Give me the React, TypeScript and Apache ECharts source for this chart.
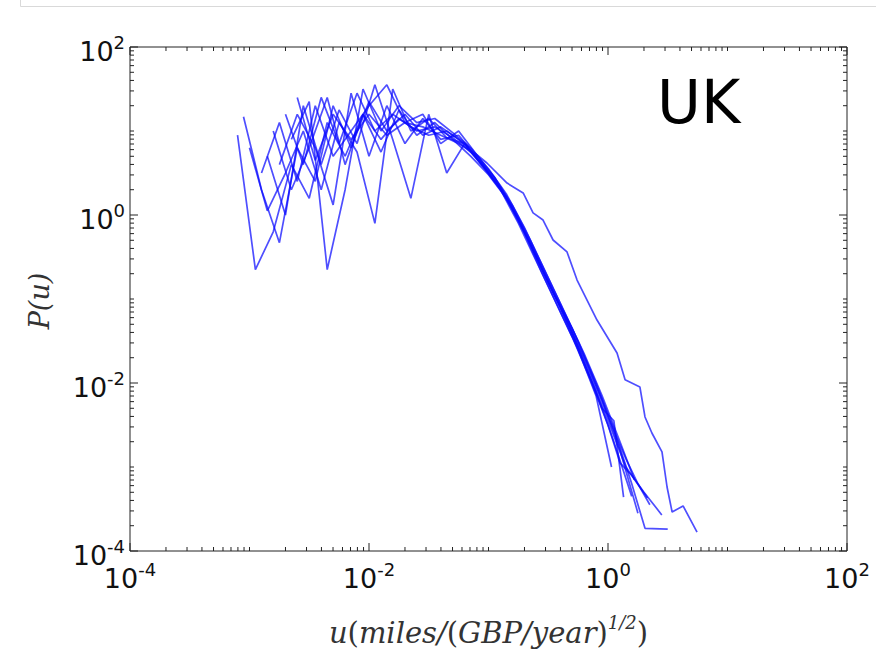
import React, { useEffect, useRef } from "react";
import * as echarts from "echarts";

// ---- data (u, P(u)) for each sample ----
const s1X = [0.000794, 0.00112, 0.00158, 0.00224, 0.00316, 0.00447, 0.00631, 0.00891, 0.0126, 0.0178, 0.0251, 0.0355, 0.0501, 0.0708, 0.1, 0.141, 0.2, 0.282, 0.398, 0.562, 0.794, 1.12, 1.58];
const s1Y = [8.91, 0.224, 0.631, 3.98, 1.58, 12.6, 5.01, 15.8, 7.94, 14.1, 10, 11.2, 8.32, 5.62, 3.16, 1.66, 0.631, 0.224, 0.0794, 0.0251, 0.00794, 0.002, 0.000447];

const s2X = [0.000891, 0.00126, 0.00178, 0.00251, 0.00355, 0.00501, 0.00708, 0.01, 0.0141, 0.02, 0.0282, 0.0398, 0.0562, 0.0794, 0.112, 0.158, 0.224, 0.316, 0.447, 0.631, 0.891, 1.26, 1.78];
const s2Y = [14.8, 2.0, 0.468, 6.31, 2.51, 20.0, 6.31, 22.4, 10, 15.8, 8.91, 11.2, 7.94, 4.79, 2.63, 1.26, 0.479, 0.166, 0.0562, 0.02, 0.00631, 0.00158, 0.000282];

const s3X = [0.00224, 0.00316, 0.00447, 0.00631, 0.00891, 0.0126, 0.0178, 0.0251, 0.0355, 0.0501, 0.0708, 0.1, 0.141, 0.2, 0.282, 0.398, 0.562, 0.794, 1.12, 1.58, 2.04, 3.16];
const s3Y = [7.94, 22.4, 0.224, 2.0, 31.6, 10, 20.0, 12.6, 14.1, 9.55, 6.31, 3.55, 1.78, 0.708, 0.251, 0.0891, 0.0316, 0.01, 0.00282, 0.000631, 0.000186, 0.000182];

const s4X = [0.00178, 0.00251, 0.00355, 0.00501, 0.00708, 0.01, 0.0141, 0.02, 0.0282, 0.0398, 0.0562, 0.0794, 0.112, 0.158, 0.224, 0.316, 0.447, 0.631, 0.891, 1.12, 1.35];
const s4Y = [3.98, 15.8, 6.31, 1.32, 28.2, 5.01, 20.0, 7.08, 14.1, 7.94, 8.91, 5.01, 2.82, 1.2, 0.447, 0.158, 0.0603, 0.0178, 0.00501, 0.00355, 0.000437];

const s5X = [0.001, 0.00141, 0.002, 0.00282, 0.00398, 0.00562, 0.00794, 0.0112, 0.0158, 0.0224, 0.0316, 0.0447, 0.0631, 0.0891, 0.126, 0.178, 0.251, 0.355, 0.501, 0.708, 1, 1.41, 2.0, 2.82];
const s5Y = [6.31, 1.12, 3.16, 10, 2.0, 12.6, 5.62, 0.794, 31.6, 10, 14.1, 8.32, 7.08, 3.8, 2.0, 0.891, 0.316, 0.112, 0.0398, 0.0126, 0.00355, 0.001, 0.000501, 0.000269];

const s6X = [0.00141, 0.002, 0.00282, 0.00398, 0.00562, 0.00794, 0.0112, 0.0158, 0.0224, 0.0316, 0.0447, 0.0631, 0.0891, 0.126, 0.178, 0.251, 0.355, 0.501, 0.708, 1, 1.26, 1.58, 2.14];
const s6Y = [5.01, 1, 20.0, 3.98, 17.8, 7.08, 35.5, 7.94, 1.58, 15.8, 3.16, 7.08, 3.98, 2.0, 0.794, 0.282, 0.1, 0.0355, 0.0112, 0.00316, 0.00112, 0.000794, 0.000427];

const s7X = [0.00126, 0.00178, 0.00251, 0.00355, 0.00501, 0.00708, 0.01, 0.0141, 0.02, 0.0282, 0.0398, 0.0562, 0.0794, 0.112, 0.158, 0.224, 0.316, 0.447, 0.631, 0.891, 1.26, 1.66];
const s7Y = [3.16, 12.6, 2.51, 20.0, 5.01, 10, 20.0, 35.5, 12.6, 15.8, 7.08, 10, 5.25, 2.82, 1.32, 0.501, 0.178, 0.0631, 0.0224, 0.00708, 0.002, 0.000708];

const s8X = [0.00158, 0.00224, 0.00316, 0.00447, 0.00631, 0.00891, 0.0126, 0.0178, 0.0251, 0.0355, 0.0501, 0.0708, 0.1, 0.141, 0.2, 0.282, 0.398, 0.562, 0.794, 1.07];
const s8Y = [10, 2.0, 6.31, 25.1, 3.98, 15.8, 5.62, 17.8, 8.91, 12.6, 7.94, 5.01, 3.02, 1.58, 0.603, 0.2, 0.0708, 0.0251, 0.00708, 0.001];

const s9X = [0.002, 0.00282, 0.00398, 0.00562, 0.00794, 0.0112, 0.0158, 0.0224, 0.0316, 0.0447, 0.0631, 0.0891, 0.126, 0.178, 0.251, 0.355, 0.501, 0.708, 1, 1.41, 1.78, 2.24];
const s9Y = [15.8, 3.98, 25.1, 7.08, 28.2, 10, 15.8, 11.2, 8.91, 10, 7.08, 3.98, 2.14, 0.891, 0.316, 0.112, 0.0447, 0.0141, 0.00398, 0.00126, 0.000631, 0.000355];

const s10X = [0.00251, 0.00355, 0.00501, 0.00708, 0.01, 0.0141, 0.02, 0.0282, 0.0398, 0.0562, 0.0794, 0.097, 0.143, 0.195, 0.236, 0.286, 0.347, 0.454, 0.551, 0.809, 1.19, 1.39, 1.85, 2.04, 2.33, 2.83, 3.12, 3.44, 4.25, 5.56];
const s10Y = [25.1, 4.47, 15.8, 7.94, 15.8, 8.91, 12.6, 11.2, 8.91, 7.08, 5.25, 4.16, 2.4, 1.83, 1.06, 0.871, 0.504, 0.363, 0.168, 0.0562, 0.0228, 0.0109, 0.00895, 0.00394, 0.00254, 0.00151, 0.000578, 0.000291, 0.000344, 0.000168];

const seriesXs = [s1X, s2X, s3X, s4X, s5X, s6X, s7X, s8X, s9X, s10X];
const seriesYs = [s1Y, s2Y, s3Y, s4Y, s5Y, s6Y, s7Y, s8Y, s9Y, s10Y];

// ---- axes ----
const xMin = 1e-4;
const xMax = 1e2;
const yMin = 1e-4;
const yMax = 1e2;
const labeledExponents = [-4, -2, 0, 2];
const decadeExponents = [-4, -3, -2, -1, 0, 1, 2];
const minorMantissas = [2, 3, 4, 5, 6, 7, 8, 9];
const panelLabel = "UK";
const yTitle = "P(u)";

type Tick = { axis: "x" | "y"; v: number; major: boolean };
const ticks: Tick[] = [];
for (const axis of ["x", "y"] as const) {
  for (const e of decadeExponents) {
    ticks.push({ axis, v: Math.pow(10, e), major: labeledExponents.includes(e) });
    if (e < 2) {
      for (const m of minorMantissas) ticks.push({ axis, v: m * Math.pow(10, e), major: false });
    }
  }
}

const tickFont = "DejaVu Sans";
const labelRich = {
  b: { fontSize: 27, fontFamily: tickFont, color: "#111", lineHeight: 28, padding: [9, 0, 0, 0] },
  s: { fontSize: 18, fontFamily: tickFont, color: "#111", lineHeight: 16, verticalAlign: "top" },
};
const expFormatter = (val: number) => {
  const e = Math.round(Math.log10(val));
  if (!labeledExponents.includes(e)) return "";
  return `{b|10}{s|${e}}`;
};

export default function App() {
  const ref = useRef<HTMLDivElement>(null);
  useEffect(() => {
    if (!ref.current) return;
    const chart = echarts.init(ref.current, null, { renderer: "svg" });
    const lineSeries = seriesXs.map((xs, i) => ({
      type: "line",
      data: xs.map((x, j) => [x, seriesYs[i][j]]),
      showSymbol: false,
      symbol: "none",
      lineStyle: { color: "rgba(10,10,255,0.72)", width: 1.7 },
      silent: true,
      z: 2,
    }));
    const tickSeries = {
      type: "custom",
      silent: true,
      clip: false,
      z: 5,
      data: ticks.map((t) => (t.axis === "x" ? [t.v, 1] : [1, t.v])),
      renderItem: (params: any, api: any) => {
        const t = ticks[params.dataIndex];
        const len = t.major ? 8 : 4;
        const st = { stroke: "#222", lineWidth: 1 };
        if (t.axis === "x") {
          const pb = api.coord([t.v, yMin]);
          const pt = api.coord([t.v, yMax]);
          return {
            type: "group",
            children: [
              { type: "line", shape: { x1: pb[0], y1: pb[1], x2: pb[0], y2: pb[1] - len }, style: st },
              { type: "line", shape: { x1: pt[0], y1: pt[1], x2: pt[0], y2: pt[1] + len }, style: st },
            ],
          };
        }
        const pl = api.coord([xMin, t.v]);
        const pr = api.coord([xMax, t.v]);
        return {
          type: "group",
          children: [
            { type: "line", shape: { x1: pl[0], y1: pl[1], x2: pl[0] + len, y2: pl[1] }, style: st },
            { type: "line", shape: { x1: pr[0], y1: pr[1], x2: pr[0] - len, y2: pr[1] }, style: st },
          ],
        };
      },
    };
    chart.setOption({
      animation: false,
      backgroundColor: "#fff",
      grid: {
        left: 130,
        top: 47,
        right: 29,
        bottom: 102,
        show: true,
        borderColor: "#222",
        borderWidth: 1,
        backgroundColor: "transparent",
      },
      xAxis: {
        type: "log",
        logBase: 10,
        min: xMin,
        max: xMax,
        splitLine: { show: false },
        axisLine: { show: false },
        axisTick: { show: false },
        axisLabel: { formatter: expFormatter, margin: 9, rich: labelRich },
        name: "{i|u}{r|(}{i|miles/}{r|(}{i|GBP/year}{r|)}{s|1/2}{r|)}",
        nameLocation: "middle",
        nameGap: 62,
        nameTextStyle: {
          rich: {
            i: { fontFamily: "DejaVu Serif", fontStyle: "italic", fontSize: 29, color: "#333", lineHeight: 30, padding: [9, 0, 0, 0] },
            r: { fontFamily: "DejaVu Serif", fontSize: 29, color: "#333", lineHeight: 30, padding: [9, 0, 0, 0] },
            s: { fontFamily: "DejaVu Serif", fontStyle: "italic", fontSize: 18, color: "#333", lineHeight: 16, verticalAlign: "top" },
          },
        },
      },
      yAxis: {
        type: "log",
        logBase: 10,
        min: yMin,
        max: yMax,
        splitLine: { show: false },
        axisLine: { show: false },
        axisTick: { show: false },
        axisLabel: { formatter: expFormatter, margin: 5, rich: labelRich },
      },
      graphic: [
        {
          type: "rect",
          shape: { x: 20.5, y: -10, width: 870, height: 16.5 },
          style: { fill: "none", stroke: "#d9d9d9", lineWidth: 1 },
          silent: true,
        },
        {
          type: "text",
          left: 657,
          top: 72,
          style: { text: panelLabel, font: "60px 'DejaVu Sans'", fill: "#000" },
          silent: true,
        },
        {
          type: "text",
          x: 39,
          y: 301,
          rotation: Math.PI / 2,
          style: {
            text: yTitle,
            font: "italic 27px 'DejaVu Serif'",
            fill: "#333",
            align: "center",
            verticalAlign: "middle",
          },
          silent: true,
        },
      ],
      series: [...lineSeries, tickSeries],
    });
    return () => chart.dispose();
  }, []);
  return (
    <div
      ref={ref}
      style={{ position: "fixed", left: 0, top: 0, width: 876, height: 653, background: "#fff" }}
    />
  );
}
